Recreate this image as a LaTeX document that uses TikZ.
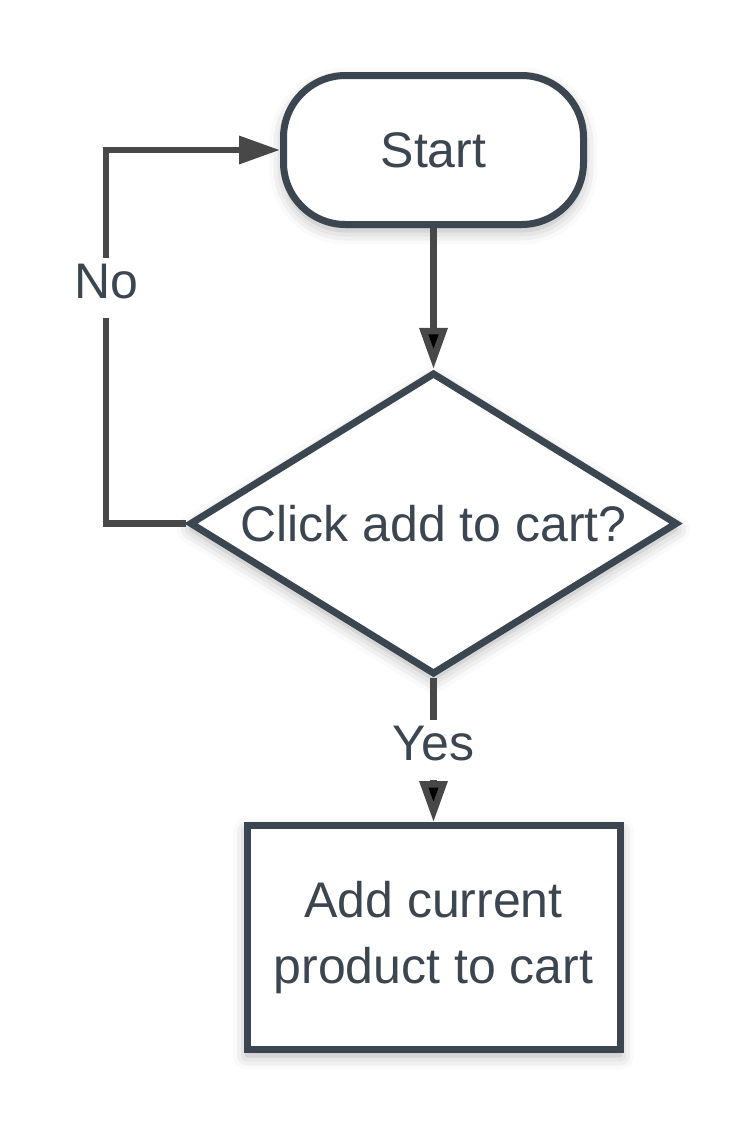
\documentclass[tikz,border=0pt]{standalone}
\usepackage{fontspec}
\setmainfont{Liberation Sans}
\usetikzlibrary{ % tikz packages
    shapes.geometric,positioning,
    arrows.meta,shadows.blur
}
\definecolor{slate}{RGB}{60,70,81}
\definecolor{linegray}{RGB}{72,72,72}
\tikzset{every node/.style={
    text=slate,
    font=\fontsize{50pt}{66pt}\selectfont
}}
\tikzset{softshadow/.style={
    blur shadow={shadow xshift=0pt,shadow yshift=-6pt,
        shadow blur radius=14pt,shadow opacity=32}
}}
\tikzset{terminal/.style={
    draw=slate,line width=7pt,fill=white,softshadow,
    rounded corners=62pt,
    minimum width=300pt,minimum height=149pt
}}
\tikzset{decision/.style={
    diamond,draw=slate,line width=7pt,fill=white,softshadow,
    inner sep=0pt,aspect=1.62,
    minimum width=488pt,minimum height=302pt
}}
\tikzset{process/.style={
    draw=slate,line width=7pt,fill=white,softshadow,
    align=center,
    minimum width=373pt,minimum height=224pt
}}
\tikzset{flowlabel/.style={
    fill=white,inner xsep=4pt,inner ysep=0pt,
    text height=35pt,text depth=14pt,minimum height=60pt
}}
\tikzset{>={Triangle[length=41pt,width=27pt]}}

\begin{document}
\begin{tikzpicture}[x=1pt,y=1pt,on grid]
        \useasboundingbox (0,0) rectangle (752,-1125);

        \node[terminal] (start) at (433.5,-150) {Start};
        \node[decision] (click) [below=373.5pt of start] {Click add to cart?};
        \node[process] (addcart) [below=414pt of click] {Add current\\product to cart};

        \path[->,draw=linegray,line width=6.5pt]
            (start)
                edge (click)
            (click)
                edge node[flowlabel,pos=0.5] {Yes} (addcart);

        \draw[->,draw=linegray,line width=6.5pt]
            (click.west) -- ++(-80,0) |- node[flowlabel,pos=0.315] {No} (start.west);
    \end{tikzpicture}
\end{document}
